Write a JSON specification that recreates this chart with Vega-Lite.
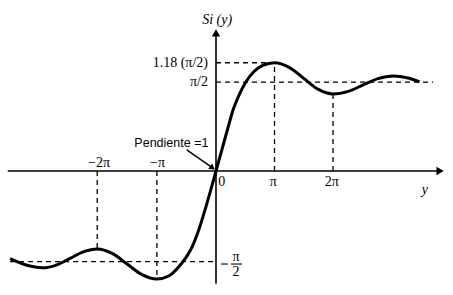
{
  "$schema": "https://vega.github.io/schema/vega-lite/v6.json",
  "width": 453,
  "height": 295,
  "padding": 0,
  "autosize": {"type": "fit", "contains": "padding"},
  "background": "white",
  "config": {"view": {"stroke": null}},
  "encoding": {
    "x": {"field": "x", "type": "quantitative", "axis": null, "scale": {"domain": [-3.692, 4.051], "nice": false, "zero": false}},
    "y": {"field": "y", "type": "quantitative", "axis": null, "scale": {"domain": [-1.409, 1.943], "nice": false, "zero": false}}
  },
  "layer": [
    {
      "data": {"values": [
        {"x": 0, "y": 1.23, "x2": 1.0, "y2": 1.23},
        {"x": 0, "y": 1.01, "x2": 3.71, "y2": 1.01},
        {"x": 1.0, "y": 0, "x2": 1.0, "y2": 1.23},
        {"x": 2.0, "y": 0, "x2": 2.0, "y2": 0.875},
        {"x": -3.52, "y": -1.03, "x2": 0, "y2": -1.03},
        {"x": -1.01, "y": 0, "x2": -1.01, "y2": -1.227},
        {"x": -2.03, "y": 0, "x2": -2.03, "y2": -0.886}
      ]},
      "mark": {"type": "rule", "color": "black", "strokeWidth": 1.3, "strokeDash": [5, 4]},
      "encoding": {"x2": {"field": "x2"}, "y2": {"field": "y2"}}
    },
    {
      "data": {"values": [
        {"x": -3.56, "y": 0, "x2": 3.8, "y2": 0},
        {"x": 0, "y": -1.28, "x2": 0, "y2": 1.53}
      ]},
      "mark": {"type": "rule", "color": "black", "strokeWidth": 1.6},
      "encoding": {"x2": {"field": "x2"}, "y2": {"field": "y2"}}
    },
    {
      "data": {"values": [
        {"x": -3.52, "y": -0.996}, {"x": -3.2, "y": -1.077}, {"x": -2.96, "y": -1.1},
        {"x": -2.73, "y": -1.069}, {"x": -2.495, "y": -0.993}, {"x": -2.26, "y": -0.917},
        {"x": -2.03, "y": -0.886}, {"x": -1.775, "y": -0.936}, {"x": -1.52, "y": -1.0565},
        {"x": -1.265, "y": -1.177}, {"x": -1.01, "y": -1.227}, {"x": -0.8, "y": -1.19},
        {"x": -0.6, "y": -1.06}, {"x": -0.5, "y": -0.97}, {"x": -0.4, "y": -0.85},
        {"x": -0.3, "y": -0.68}, {"x": -0.2, "y": -0.47}, {"x": -0.1, "y": -0.24},
        {"x": 0, "y": 0}, {"x": 0.1, "y": 0.24}, {"x": 0.2, "y": 0.48},
        {"x": 0.29, "y": 0.69}, {"x": 0.4, "y": 0.87}, {"x": 0.5, "y": 1.0},
        {"x": 0.65, "y": 1.13}, {"x": 0.8, "y": 1.2}, {"x": 1.0, "y": 1.23},
        {"x": 1.25, "y": 1.178}, {"x": 1.5, "y": 1.0525}, {"x": 1.75, "y": 0.927},
        {"x": 2.0, "y": 0.875}, {"x": 2.26, "y": 0.905}, {"x": 2.515, "y": 0.9775},
        {"x": 2.77, "y": 1.05}, {"x": 3.03, "y": 1.08}, {"x": 3.28, "y": 1.057},
        {"x": 3.48, "y": 1.013}
      ]},
      "mark": {"type": "line", "color": "black", "strokeWidth": 3, "interpolate": "monotone"}
    },
    {
      "data": {"values": [{"x": 3.83, "y": 0}]},
      "mark": {"type": "point", "shape": "triangle-right", "filled": true, "color": "black", "size": 70, "opacity": 1}
    },
    {
      "data": {"values": [{"x": 0, "y": 1.57}]},
      "mark": {"type": "point", "shape": "triangle-up", "filled": true, "color": "black", "size": 70, "opacity": 1}
    },
    {
      "data": {"values": [{"x": -0.5, "y": 0.24, "x2": -0.07, "y2": 0.04}]},
      "mark": {"type": "rule", "color": "black", "strokeWidth": 1.5},
      "encoding": {"x2": {"field": "x2"}, "y2": {"field": "y2"}}
    },
    {
      "data": {"values": [{"x": -0.06, "y": 0.035}]},
      "mark": {"type": "point", "shape": "triangle-right", "filled": true, "color": "black", "size": 45, "angle": 35, "opacity": 1}
    },
    {
      "data": {"values": [
        {"x": 0.256, "y": -1.057, "x2": 0.444},
        {"x": 0.085, "y": -1.057, "x2": 0.205}
      ]},
      "mark": {"type": "rule", "color": "black", "strokeWidth": 1.1},
      "encoding": {"x2": {"field": "x2"}}
    },
    {
      "data": {"values": [
        {"x": -0.137, "y": 1.23, "label": "1.18 (π/2)"},
        {"x": -0.137, "y": 1.01, "label": "π/2"}
      ]},
      "mark": {"type": "text", "align": "right", "baseline": "middle", "font": "Liberation Serif", "fontSize": 14, "color": "black"},
      "encoding": {"text": {"field": "label"}}
    },
    {
      "data": {"values": [
        {"x": -2.0, "y": 0.09, "label": "−2π"},
        {"x": -1.0, "y": 0.09, "label": "−π"},
        {"x": 0.98, "y": -0.125, "label": "π"},
        {"x": 1.98, "y": -0.125, "label": "2π"},
        {"x": 0.1, "y": -0.125, "label": "0"},
        {"x": 0.342, "y": -0.977, "label": "π"},
        {"x": 0.342, "y": -1.148, "label": "2"}
      ]},
      "mark": {"type": "text", "align": "center", "baseline": "middle", "font": "Liberation Serif", "fontSize": 14, "color": "black"},
      "encoding": {"text": {"field": "label"}}
    },
    {
      "data": {"values": [
        {"x": 0.02, "y": 1.72, "label": "Si (y)"},
        {"x": 3.57, "y": -0.22, "label": "y"}
      ]},
      "mark": {"type": "text", "align": "center", "baseline": "middle", "font": "Liberation Serif", "fontStyle": "italic", "fontSize": 14, "color": "black"},
      "encoding": {"text": {"field": "label"}}
    },
    {
      "data": {"values": [{"x": -0.13, "y": 0.318, "label": "Pendiente =1"}]},
      "mark": {"type": "text", "align": "right", "baseline": "middle", "font": "Liberation Sans", "fontSize": 12.5, "color": "black"},
      "encoding": {"text": {"field": "label"}}
    }
  ]
}
